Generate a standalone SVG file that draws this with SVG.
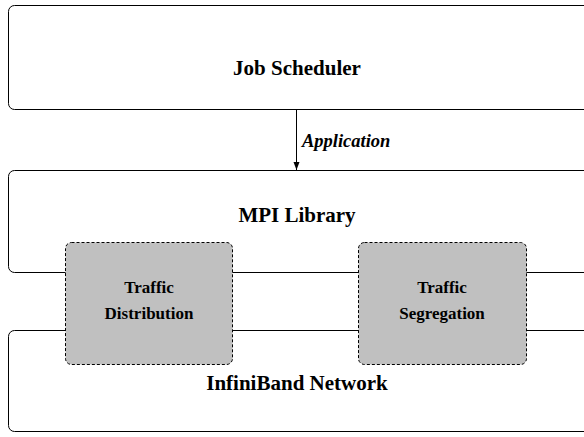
<svg xmlns="http://www.w3.org/2000/svg" width="584" height="437" viewBox="0 0 584 437">
  <style>
    .layer { fill: #ffffff; stroke: #000000; stroke-width: 1; }
    .module { fill: #c0c0c0; stroke: #000000; stroke-width: 1; stroke-dasharray: 3 2; }
    .big { font-family: "Liberation Serif", "Times New Roman", serif; font-weight: bold; font-size: 21px; text-anchor: middle; fill: #000; }
    .small { font-family: "Liberation Serif", "Times New Roman", serif; font-weight: bold; font-size: 17px; text-anchor: middle; fill: #000; }
    .label { font-family: "Liberation Serif", "Times New Roman", serif; font-weight: bold; font-style: italic; font-size: 18.5px; fill: #000; }
    .conn { stroke: #000; stroke-width: 1; fill: none; }
  </style>
  <defs>
    <marker id="arrow" markerWidth="8" markerHeight="10" refX="8" refY="5" orient="auto" markerUnits="userSpaceOnUse">
      <path d="M0,2 L8,5 L0,8 Z" fill="#000"/>
    </marker>
  </defs>
  <rect width="584" height="437" fill="#ffffff"/>
  <g id="job-scheduler">
    <rect class="layer" x="8.5" y="5.5" width="582" height="104" rx="6" ry="6"/>
    <text class="big" x="297" y="75">Job Scheduler</text>
  </g>
  <g id="mpi-library">
    <rect class="layer" x="8.5" y="170.5" width="582" height="102" rx="6" ry="6"/>
    <text class="big" x="297" y="222">MPI Library</text>
  </g>
  <g id="infiniband-network">
    <rect class="layer" x="8.5" y="330.5" width="582" height="101" rx="6" ry="6"/>
    <text class="big" x="297" y="390">InfiniBand Network</text>
  </g>
  <g id="traffic-distribution">
    <rect class="module" x="65.5" y="242.5" width="167" height="122" rx="6" ry="6"/>
    <text class="small" x="149" y="293">Traffic</text>
    <text class="small" x="149" y="319">Distribution</text>
  </g>
  <g id="traffic-segregation">
    <rect class="module" x="358.5" y="242.5" width="168" height="122" rx="6" ry="6"/>
    <text class="small" x="442" y="293">Traffic</text>
    <text class="small" x="442" y="319">Segregation</text>
  </g>
  <g id="connectors">
    <line class="conn" x1="296.5" y1="110" x2="296.5" y2="170" marker-end="url(#arrow)"/>
    <text class="label" x="302" y="147">Application</text>
  </g>
</svg>
